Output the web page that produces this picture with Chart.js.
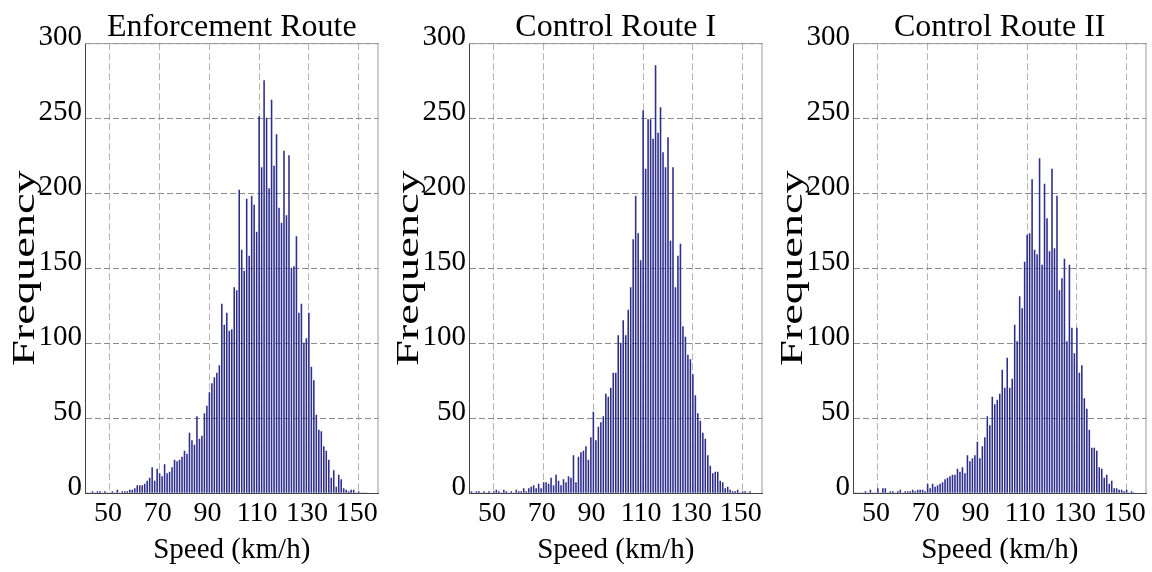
<!DOCTYPE html>
<html lang="en">

<head>
  <meta charset="UTF-8" />
  <title>Speed histograms</title>
  <script src="https://cdn.jsdelivr.net/npm/chart.js"></script>
  <style>
    body {
      margin: 0;
      background: #fff;
    }

    .row {
      display: flex;
      width: 1152px;
      height: 572px;
    }

    .panel {
      position: relative;
      width: 384px;
      height: 572px;
    }
  </style>
</head>

<body>
  <div class="row">
    <div class="panel"><canvas id="chart_enforcement"></canvas></div>
    <div class="panel"><canvas id="chart_control1"></canvas></div>
    <div class="panel"><canvas id="chart_control2"></canvas></div>
  </div>

  <script>
    // speed bins (km/h), one bar per bin
    const speedBins = [
      41, 42, 43, 44, 45, 46, 47, 48, 49, 50,
      51, 52, 53, 54, 55, 56, 57, 58, 59, 60,
      61, 62, 63, 64, 65, 66, 67, 68, 69, 70,
      71, 72, 73, 74, 75, 76, 77, 78, 79, 80,
      81, 82, 83, 84, 85, 86, 87, 88, 89, 90,
      91, 92, 93, 94, 95, 96, 97, 98, 99, 100,
      101, 102, 103, 104, 105, 106, 107, 108, 109, 110,
      111, 112, 113, 114, 115, 116, 117, 118, 119, 120,
      121, 122, 123, 124, 125, 126, 127, 128, 129, 130,
      131, 132, 133, 134, 135, 136, 137, 138, 139, 140,
      141, 142, 143, 144, 145, 146, 147, 148, 149, 150,
      151, 152, 153
    ];

    const enforcementFreq = [
      0, 0, 1, 0, 1, 1, 0, 1, 0, 0,
      1, 0, 2, 0, 1, 1, 1, 2, 2, 3,
      5, 5, 5, 6, 8, 10, 17, 8, 16, 13,
      11, 19, 13, 14, 17, 22, 21, 22, 24, 28,
      26, 40, 35, 32, 51, 36, 38, 53, 58, 67,
      73, 77, 80, 85, 126, 112, 120, 108, 109, 137,
      135, 202, 162, 148, 196, 158, 198, 192, 174, 251,
      217, 275, 250, 203, 262, 218, 239, 190, 180, 228,
      185, 225, 150, 151, 171, 120, 126, 100, 103, 120,
      84, 75, 52, 42, 41, 31, 28, 22, 10, 15,
      4, 12, 9, 3, 2, 1, 2, 2, 0, 1,
      0, 0, 0
    ];

    const controlIFreq = [
      1, 0, 1, 1, 0, 1, 0, 1, 0, 1,
      2, 1, 0, 2, 1, 0, 1, 0, 2, 1,
      1, 3, 1, 3, 4, 5, 3, 6, 3, 7,
      7, 6, 10, 5, 12, 8, 5, 9, 7, 11,
      10, 25, 7, 24, 27, 28, 31, 22, 37, 54,
      35, 44, 47, 51, 66, 64, 70, 80, 80, 105,
      100, 115, 105, 122, 137, 169, 198, 173, 155, 255,
      216, 249, 249, 236, 285, 240, 257, 227, 217, 237,
      168, 217, 137, 158, 166, 111, 104, 92, 89, 79,
      65, 53, 48, 40, 36, 25, 18, 13, 14, 14,
      8, 7, 3, 4, 2, 1, 1, 2, 0, 1,
      1, 0, 1
    ];

    const controlIIFreq = [
      0, 0, 0, 0, 1, 0, 2, 0, 0, 3,
      0, 3, 3, 0, 1, 1, 0, 1, 2, 0,
      1, 1, 1, 2, 1, 2, 2, 2, 1, 6,
      3, 6, 4, 5, 6, 7, 9, 10, 11, 12,
      12, 16, 14, 17, 13, 25, 21, 23, 25, 34,
      23, 31, 37, 51, 45, 64, 59, 62, 66, 82,
      70, 90, 70, 76, 112, 101, 131, 123, 154, 172,
      173, 209, 162, 159, 223, 152, 206, 183, 161, 216,
      163, 198, 135, 143, 156, 101, 152, 110, 93, 110,
      80, 85, 63, 56, 42, 30, 30, 28, 17, 16,
      10, 12, 6, 8, 3, 3, 2, 2, 1, 2,
      0, 1, 0
    ];

    const speedTicks = [50, 70, 90, 110, 130, 150];
    const freqTicks = [0, 50, 100, 150, 200, 250, 300];
    const panelTitles = ['Enforcement Route', 'Control Route I', 'Control Route II'];

    const serif = 'Liberation Serif';

    // gray top/right frame + the tall "Frequency" label
    const frameAndLabel = {
      id: 'frameAndLabel',
      afterDraw(chart) {
        const { ctx, chartArea: a } = chart;
        ctx.save();
        ctx.strokeStyle = '#9a9a9a';
        ctx.lineWidth = 1;
        ctx.beginPath();
        ctx.moveTo(a.left, a.top + 0.5);
        ctx.lineTo(a.right, a.top + 0.5);
        ctx.moveTo(a.right - 0.5, a.top);
        ctx.lineTo(a.right - 0.5, a.bottom);
        ctx.stroke();

        ctx.translate(26, (a.top + a.bottom) / 2);
        ctx.rotate(-Math.PI / 2);
        ctx.scale(1.45, 1);
        ctx.font = '32px "' + serif + '"';
        ctx.fillStyle = '#000';
        ctx.textAlign = 'center';
        ctx.textBaseline = 'middle';
        ctx.fillText('Frequency', 0, 0);
        ctx.restore();
      }
    };

    function drawHistogram(canvasId, title, freq) {
      const points = speedBins.map((v, i) => ({ x: v, y: freq[i] }));

      new Chart(document.getElementById(canvasId), {
        type: 'bar',
        data: {
          datasets: [{
            data: points,
            backgroundColor: 'rgb(45,45,140)',
            borderWidth: 0,
            barThickness: 0.9,
          }]
        },
        options: {
          responsive: true,
          maintainAspectRatio: false,
          animation: false,
          layout: { padding: { left: 0, right: 1, top: 0, bottom: 0 } },
          plugins: {
            legend: { display: false },
            tooltip: { enabled: false },
            title: {
              display: true,
              text: title,
              fullSize: false,
              color: '#000',
              font: { family: serif, size: 32, weight: 'normal', lineHeight: 0.85 },
              padding: { top: 14, bottom: 2 },
            },
          },
          scales: {
            x: {
              type: 'linear',
              min: 40,
              max: 158,
              offset: false,
              afterBuildTicks: s => { s.ticks = speedTicks.map(v => ({ value: v })); },
              afterFit: s => { s.height = 79; },
              grid: { color: '#b4b4b4', drawTicks: false, offset: false },
              border: { color: '#444', width: 1, dash: [7, 3] },
              ticks: {
                color: '#000',
                font: { family: serif, size: 28 },
                padding: 4,
                labelOffset: -2,
                maxRotation: 0,
                autoSkip: false,
              },
              title: {
                display: true,
                text: 'Speed (km/h)',
                color: '#000',
                font: { family: serif, size: 29 },
                padding: { top: 0, bottom: 4 },
              },
            },
            y: {
              min: 0,
              max: 300,
              afterBuildTicks: s => { s.ticks = freqTicks.map(v => ({ value: v })); },
              afterFit: s => { s.width = 85; },
              grid: { color: '#8c8c8c', drawTicks: false },
              border: { color: '#444', width: 1, dash: [6, 3] },
              ticks: {
                color: '#000',
                font: { family: serif, size: 29 },
                padding: 3,
                labelOffset: -6,
              },
            },
          },
        },
        plugins: [frameAndLabel],
      });
    }

    drawHistogram('chart_enforcement', panelTitles[0], enforcementFreq);
    drawHistogram('chart_control1', panelTitles[1], controlIFreq);
    drawHistogram('chart_control2', panelTitles[2], controlIIFreq);
  </script>
</body>

</html>
